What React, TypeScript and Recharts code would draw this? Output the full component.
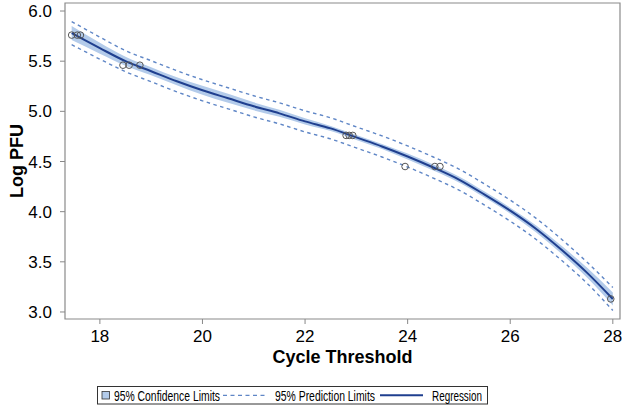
import React from 'react';
import { ComposedChart, Area, Line, Scatter, XAxis, YAxis, ReferenceArea, Label } from 'recharts';

const FONT = "'Liberation Sans', Arial, Helvetica, sans-serif";

// Fitted regression curve
const curveX = [17.45, 18, 18.5, 19, 19.5, 20, 20.5, 21, 21.5, 22, 22.5, 23, 23.5, 24, 24.5, 25, 25.5, 26, 26.5, 27, 27.5, 28];
const fitY = [5.78, 5.63, 5.5, 5.4, 5.3, 5.21, 5.13, 5.05, 4.98, 4.9, 4.83, 4.74, 4.65, 4.55, 4.44, 4.32, 4.17, 4.01, 3.83, 3.62, 3.39, 3.13];
// 95% confidence limits
const clLow = [5.71, 5.575, 5.455, 5.36, 5.26, 5.165, 5.085, 5.01, 4.945, 4.87, 4.805, 4.715, 4.625, 4.52, 4.41, 4.29, 4.14, 3.98, 3.795, 3.58, 3.34, 3.065];
const clHigh = [5.85, 5.685, 5.545, 5.44, 5.34, 5.255, 5.175, 5.09, 5.015, 4.93, 4.855, 4.765, 4.675, 4.58, 4.47, 4.35, 4.2, 4.04, 3.865, 3.66, 3.44, 3.195];
// 95% prediction limits
const plLow = [5.665, 5.52, 5.395, 5.295, 5.195, 5.105, 5.025, 4.945, 4.875, 4.795, 4.725, 4.635, 4.545, 4.445, 4.335, 4.215, 4.065, 3.905, 3.725, 3.515, 3.285, 3.015];
const plHigh = [5.895, 5.74, 5.605, 5.505, 5.405, 5.315, 5.235, 5.155, 5.085, 5.005, 4.935, 4.845, 4.755, 4.655, 4.545, 4.425, 4.275, 4.115, 3.935, 3.725, 3.495, 3.245];
// Observations
const obsX = [17.45, 17.56, 17.62, 18.45, 18.57, 18.78, 22.8, 22.86, 22.93, 23.95, 24.53, 24.63, 27.96];
const obsY = [5.76, 5.76, 5.76, 5.46, 5.46, 5.46, 4.76, 4.76, 4.76, 4.45, 4.45, 4.45, 3.13];

const xTicks = [18, 20, 22, 24, 26, 28];
const yTicks = [3, 3.5, 4, 4.5, 5, 5.5, 6];
const xDomain: [number, number] = [17.32, 28.14];
const yDomain: [number, number] = [2.93, 6.08];

const legendLabels = ['95% Confidence Limits', '95% Prediction Limits', 'Regression'];

const rows = curveX.map((x, i) => ({
  x,
  fit: fitY[i],
  cl: [clLow[i], clHigh[i]],
  plLow: plLow[i],
  plHigh: plHigh[i],
}));
const pts = obsX.map((x, i) => ({ x, y: obsY[i] }));

const BAND = '#b3cbea';
const NAVY = '#1f3f8f';
const DASH = '#5f86c6';

const YTitle = (props: any) => {
  const vb = props.viewBox || { x: 0, y: 3, width: 65, height: 316 };
  const cx = 17;
  const cy = vb.y + vb.height / 2;
  return (
    <text
      x={cx}
      y={cy}
      transform={`rotate(-90, ${cx}, ${cy})`}
      textAnchor="middle"
      dominantBaseline="central"
      fontFamily={FONT}
      fontWeight="bold"
      fontSize={18}
      fill="#000"
    >
      Log PFU
    </text>
  );
};

const Circle = (p: any) => (
  <circle cx={p.cx} cy={p.cy} r={3.3} fill="none" stroke="#555" strokeWidth={1} />
);

export default function App() {
  return (
    <div style={{ position: 'absolute', left: 0, top: 0, width: 625, height: 408, background: '#fff' }}>
      <ComposedChart width={625} height={408} data={rows} margin={{ top: 3, right: 5, bottom: 0, left: 0 }}>
        <XAxis
          type="number"
          dataKey="x"
          domain={xDomain}
          ticks={xTicks}
          allowDataOverflow
          interval={0}
          height={89}
          tickSize={5}
          tickMargin={6}
          axisLine={false}
          tickLine={{ stroke: '#888' }}
          tick={{ fill: '#000', fontSize: 17, fontFamily: FONT }}
        >
          <Label
            value="Cycle Threshold"
            position="insideBottom"
            offset={45}
            fontFamily={FONT}
            fontWeight="bold"
            fontSize={18}
            fill="#000"
          />
        </XAxis>
        <YAxis
          type="number"
          domain={yDomain}
          ticks={yTicks}
          allowDataOverflow
          interval={0}
          width={65}
          tickSize={5}
          tickMargin={8}
          axisLine={false}
          tickLine={{ stroke: '#888' }}
          tick={{ fill: '#000', fontSize: 17, fontFamily: FONT }}
          tickFormatter={(v: number) => v.toFixed(1)}
        >
          <Label content={<YTitle />} />
        </YAxis>
        <Area
          dataKey="cl"
          type="monotone"
          stroke="none"
          fill={BAND}
          fillOpacity={1}
          isAnimationActive={false}
          activeDot={false}
        />
        <Line
          dataKey="plLow"
          type="monotone"
          stroke={DASH}
          strokeWidth={1.4}
          strokeDasharray="3.5 3.5"
          dot={false}
          activeDot={false}
          isAnimationActive={false}
        />
        <Line
          dataKey="plHigh"
          type="monotone"
          stroke={DASH}
          strokeWidth={1.4}
          strokeDasharray="3.5 3.5"
          dot={false}
          activeDot={false}
          isAnimationActive={false}
        />
        <Line
          dataKey="fit"
          type="monotone"
          stroke={NAVY}
          strokeWidth={2}
          dot={false}
          activeDot={false}
          isAnimationActive={false}
        />
        <Scatter data={pts} dataKey="y" shape={<Circle />} isAnimationActive={false} />
        <ReferenceArea
          x1={xDomain[0]}
          x2={xDomain[1]}
          y1={yDomain[0]}
          y2={yDomain[1]}
          fill="none"
          fillOpacity={0}
          stroke="#8a8a8a"
          strokeWidth={1.2}
          ifOverflow="visible"
        />
      </ComposedChart>
      <svg
        width={625}
        height={408}
        style={{ position: 'absolute', left: 0, top: 0, pointerEvents: 'none' }}
      >
        <rect x={97.5} y={386.5} width={390} height={17.5} fill="#fff" stroke="#333" strokeWidth={1} />
        <rect x={102} y={391.5} width={7.5} height={7.5} fill={BAND} stroke="#333" strokeWidth={0.8} />
        <text x={114} y={400.5} fontFamily={FONT} fontSize={14} fill="#000" textLength={106} lengthAdjust="spacingAndGlyphs">
          {legendLabels[0]}
        </text>
        <line x1={223} y1={395.3} x2={267} y2={395.3} stroke={DASH} strokeWidth={1.3} strokeDasharray="4 3.5" />
        <text x={275} y={400.5} fontFamily={FONT} fontSize={14} fill="#000" textLength={100} lengthAdjust="spacingAndGlyphs">
          {legendLabels[1]}
        </text>
        <line x1={380} y1={395.3} x2={423} y2={395.3} stroke={NAVY} strokeWidth={2} />
        <text x={432} y={400.5} fontFamily={FONT} fontSize={14} fill="#000" textLength={50} lengthAdjust="spacingAndGlyphs">
          {legendLabels[2]}
        </text>
      </svg>
    </div>
  );
}
